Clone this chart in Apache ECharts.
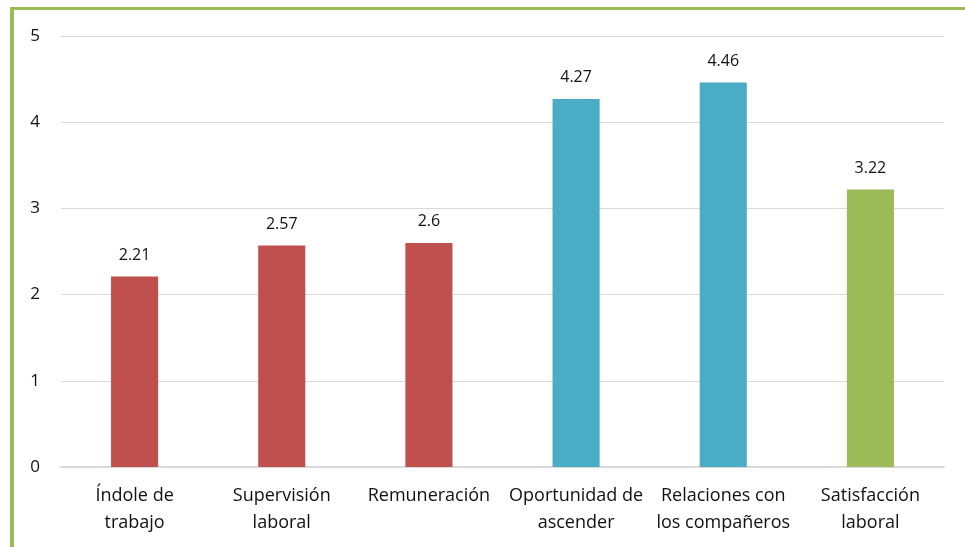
<!DOCTYPE html>
<html>
<head>
<meta charset="utf-8">
<script src="https://cdn.jsdelivr.net/npm/echarts@6/dist/echarts.min.js"></script>
<style>
	html, body { margin: 0; padding: 0; background: #fff; }
	#frame { position: absolute; left: 10px; top: 7px; width: 955px; height: 540px; border-left: 4px solid #9BBB59; border-top: 3px solid #9BBB59; }
	#chart { position: absolute; left: 0; top: 0; width: 965px; height: 547px; }
</style>
</head>
<body>
<div id="frame"></div>
<div id="chart"></div>
<script>
// categorias y valores
var categories = ['Índole de\ntrabajo', 'Supervisión\nlaboral', 'Remuneración', 'Oportunidad de\nascender', 'Relaciones con\nlos compañeros', 'Satisfacción\nlaboral'];
var values = [2.21, 2.57, 2.6, 4.27, 4.46, 3.22];
var barColors = ['#C0504D', '#C0504D', '#C0504D', '#4BACC6', '#4BACC6', '#9BBB59'];

var myChart = echarts.init(document.getElementById('chart'));
var data = [];
for (var i = 0; i < values.length; i++) {
	data.push({ value: values[i], itemStyle: { color: barColors[i] } });
}
var option = {
	animation: false,
	textStyle: { fontFamily: 'Open Sans' },
	grid: { left: 61, right: 21, top: 36, bottom: 80 },
	xAxis: {
		type: 'category',
		data: categories,
		axisLine: { lineStyle: { color: '#D9D9D9', width: 2 } },
		axisTick: { show: false },
		axisLabel: { color: '#111', fontSize: 18, lineHeight: 27, margin: 15, interval: 0 }
	},
	yAxis: {
		type: 'value',
		min: 0,
		max: 5,
		interval: 1,
		axisLine: { show: false },
		axisTick: { show: false },
		splitLine: { lineStyle: { color: '#D9D9D9', width: 1 } },
		axisLabel: { color: '#111', fontSize: 17, margin: 21 }
	},
	series: [{
		type: 'bar',
		data: data,
		barWidth: '32%',
		label: { show: true, position: 'top', distance: 13, color: '#111', fontSize: 16 }
	}]
};
myChart.setOption(option);
</script>
</body>
</html>
